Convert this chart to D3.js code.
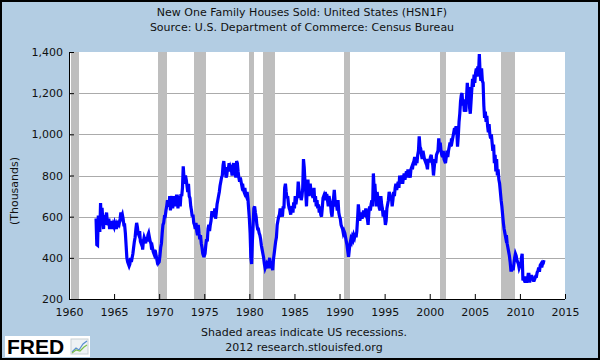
<!DOCTYPE html>
<html><head><meta charset="utf-8">
<script src="https://cdn.jsdelivr.net/npm/d3@7"></script>
<style>html,body{margin:0;padding:0;background:#b3cde3;overflow:hidden}</style>
</head><body><svg id="chart" width="600" height="360"></svg>
<script>
// ---- data: new one family houses sold, monthly, thousands (SAAR) ----
const startYear = 1963;
const sales1960s = [
 591,464,461,605,586,526,666,571,643,580,540,608,
 560,600,620,570,560,590,540,560,540,580,540,560,
 550,570,560,540,560,550,580,570,590,620,600,610,
 590,560,560,520,460,400,380,370,360,370,400,380,
 400,420,450,480,500,540,570,550,520,510,530,480,
 470,490,440,480,500,490,470,500,480,510,520,500,
 480,470,440,450,430,420,440,400,410,390,400,375];
const sales1970s = [
 380,410,450,470,520,560,570,600,600,630,650,680,
 660,650,700,630,680,700,640,690,670,700,650,700,
 700,640,700,690,650,710,700,740,845,790,760,800,
 780,750,720,760,700,690,650,630,600,610,570,560,
 540,570,530,510,560,520,490,510,470,450,420,410,
 410,420,460,490,480,540,560,530,560,580,620,620,
 620,600,640,590,620,660,680,700,720,750,770,790,
 800,850,870,830,820,790,800,840,830,860,820,840,
 830,800,840,860,830,810,790,870,860,820,790,770,
 790,770,750,760,730,720,740,710,700,720,690,640];
const sales1980s = [
 590,520,400,370,480,560,640,650,620,600,560,540,
 540,520,510,490,460,440,420,400,370,350,360,370,
 360,350,380,400,350,370,360,340,390,420,450,480,
 500,560,580,600,610,640,600,620,600,650,640,740,
 760,720,690,700,660,640,630,610,640,650,620,670,
 640,700,660,690,700,770,730,690,720,680,700,740,
 880,840,770,720,650,740,780,700,730,760,720,710,
 720,690,740,670,700,650,680,640,660,620,650,610,
 600,640,690,700,680,720,690,710,680,650,700,680,
 660,620,600,650,690,730,680,650,660,630,680,620];
const sales1990s = [
 600,590,560,550,540,520,530,520,500,480,460,430,
 405,440,470,490,480,500,490,510,500,520,500,530,
 590,660,620,580,600,620,590,610,630,600,620,640,
 600,590,560,620,650,630,660,680,650,810,740,760,
 700,650,720,690,660,640,630,700,660,640,600,630,
 600,560,580,640,660,680,720,710,680,700,650,680,
 720,700,740,760,730,750,770,740,800,780,760,800,
 760,790,810,780,800,820,790,830,810,800,790,830,
 840,830,860,870,890,850,880,860,900,920,990,940,
 930,900,880,920,900,880,870,880,850,830,880,870];
const sales2000s = [
 870,890,900,870,850,800,840,880,860,900,910,920,
 980,940,960,920,900,890,920,880,870,860,890,920,
 890,920,940,960,940,980,970,990,1010,1030,1000,1040,
 1020,940,990,1060,1100,1160,1190,1200,1140,1170,1110,1130,
 1110,1180,1250,1200,1230,1130,1100,1160,1220,1270,1230,1290,
 1250,1300,1320,1280,1330,1300,1390,1300,1260,1320,1260,1250,
 1140,1080,1110,1060,1090,1040,1010,1050,1000,980,1000,960,
 920,950,860,900,820,880,800,830,780,760,720,680,
 650,610,570,540,520,500,510,470,450,430,410,380,
 340,340,360,340,370,400,420,410,390,380,370,350];
const sales2010s = [
 360,350,400,420,290,300,290,280,310,280,290,320,
 320,280,300,310,310,300,290,290,300,310,310,330,
 336,353,332,364,370,353,369,373,389];
const recessionStarts = ["1960-04","1969-12","1973-11","1980-01","1981-07","1990-07","2001-03","2007-12"];
const recessionEnds   = ["1961-02","1970-11","1975-03","1980-07","1982-11","1991-03","2001-11","2009-06"];
const yTicks = [200,400,600,800,1000,1200,1400];
const gridValues = [400,600,800,1000,1200];
const xTicks = [1960,1965,1970,1975,1980,1985,1990,1995,2000,2005,2010,2015];
const titleLines = ["New One Family Houses Sold: United States (HSN1F)","Source: U.S. Department of Commerce: Census Bureau"];
const footerLines = ["Shaded areas indicate US recessions.","2012 research.stlouisfed.org"];
const yLabel = "(Thousands)";

// ---- build ----
const sales = [].concat(sales1960s, sales1970s, sales1980s, sales1990s, sales2000s, sales2010s);
const series = sales.map((v, i) => ({t: startYear + i / 12, v}));
const ym = s => { const [a, b] = s.split("-").map(Number); return a + (b - 1) / 12; };

const svg = d3.select("#chart");
const font = "'DejaVu Sans', Verdana, sans-serif";
const W = 600, H = 360;
const x = d3.scaleLinear().domain([1960, 2015]).range([69, 565]);
const y = d3.scaleLinear().domain([200, 1400]).range([299, 52]);

svg.append("rect").attr("x",0).attr("y",0).attr("width",W).attr("height",H).attr("fill","#b3cde3");

// plot background
svg.append("rect").attr("x", x(1960)).attr("y", y(1400))
  .attr("width", x(2015) - x(1960)).attr("height", y(200) - y(1400)).attr("fill", "#ffffff");

// gridlines
svg.append("g").selectAll("line").data(gridValues).join("line")
  .attr("x1", x(1960)).attr("x2", x(2015))
  .attr("y1", d => Math.round(y(d)) + 0.5).attr("y2", d => Math.round(y(d)) + 0.5)
  .attr("stroke", "#ababab").attr("stroke-width", 1);

// recession bars
svg.append("g").selectAll("rect").data(recessionStarts.map((s, i) => [ym(s), ym(recessionEnds[i])])).join("rect")
  .attr("x", d => x(d[0])).attr("width", d => x(d[1]) - x(d[0]))
  .attr("y", y(1400)).attr("height", y(200) - y(1400))
  .attr("fill", "#bebebe").attr("shape-rendering", "crispEdges");

// data line
svg.append("path").datum(series)
  .attr("d", d3.line().x(d => x(d.t)).y(d => y(d.v)))
  .attr("fill", "none").attr("stroke", "#0000ff").attr("stroke-width", 3.2)
  .attr("stroke-linejoin", "miter");

// axes
const yAxis = svg.append("g").attr("transform", `translate(${x(1960)},0)`)
  .call(d3.axisLeft(y).tickValues(yTicks).tickFormat(d3.format(",")).tickSize(-5).tickSizeOuter(0).tickPadding(6));
const xAxis = svg.append("g").attr("transform", `translate(0,${y(200)})`)
  .call(d3.axisBottom(x).tickValues(xTicks).tickFormat(d3.format("d")).tickSize(-5).tickSizeOuter(0).tickPadding(9));
[yAxis, xAxis].forEach(g => {
  g.selectAll("text").attr("font-family", font).attr("font-size", 11).attr("fill", "#111");
  g.selectAll("line,path").attr("stroke", "#000");
});
xAxis.select(".domain").attr("d", `M${x(1960)},0.5H${x(2015)}`);

// titles
svg.append("g").selectAll("text").data(titleLines).join("text")
  .attr("x", 302).attr("y", (d, i) => 16 + i * 15)
  .attr("text-anchor", "middle").attr("font-family", font).attr("font-size", 11).attr("fill", "#111")
  .text(d => d);

svg.append("text").attr("transform", "translate(18,191) rotate(-90)")
  .attr("text-anchor", "middle").attr("font-family", font).attr("font-size", 11).attr("fill", "#111")
  .text(yLabel);

svg.append("g").selectAll("text").data(footerLines).join("text")
  .attr("x", 304).attr("y", (d, i) => 336 + i * 15)
  .attr("text-anchor", "middle").attr("font-family", font).attr("font-size", 11).attr("fill", "#111")
  .text(d => d);

// FRED logo
const logo = svg.append("g");
logo.append("rect").attr("x", 5).attr("y", 336).attr("width", 85).attr("height", 21).attr("fill", "#fff");
logo.append("text").attr("x", 7).attr("y", 354).attr("font-family", "'Liberation Sans', Arial, sans-serif")
  .attr("font-weight", "bold").attr("font-size", 21).attr("fill", "#000").text("FRED");
const ic = logo.append("g").attr("transform", "translate(71,339)");
ic.append("rect").attr("width", 17).attr("height", 15).attr("fill", "#eef2f4").attr("stroke", "#c8d0d4");
ic.append("path").attr("d", "M1,13 L5,9 L8,11 L12,5 L16,2").attr("fill", "none").attr("stroke", "#5a8fd0").attr("stroke-width", 1.2);
ic.append("path").attr("d", "M1,14 L5,11 L9,12 L13,8 L16,6").attr("fill", "none").attr("stroke", "#7cbf4a").attr("stroke-width", 1.2);

// outer border
svg.append("rect").attr("x", 1).attr("y", 1).attr("width", W - 2).attr("height", H - 2)
  .attr("fill", "none").attr("stroke", "#000").attr("stroke-width", 2);
</script></body></html>
